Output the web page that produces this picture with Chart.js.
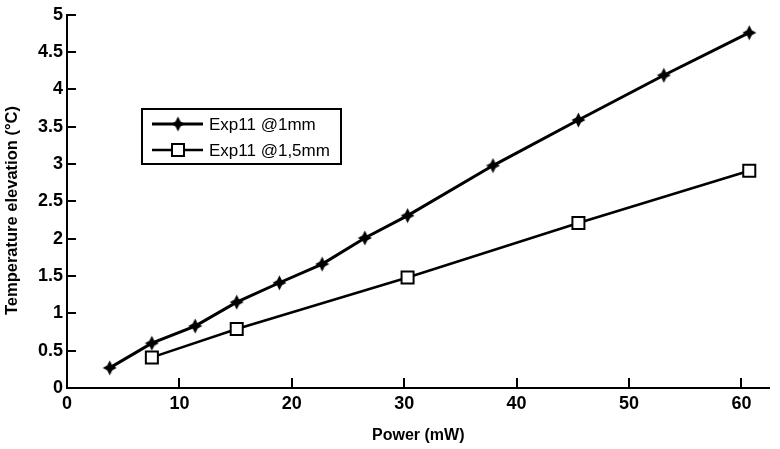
<!DOCTYPE html>
<html>
<head>
<meta charset="utf-8">
<script src="https://cdn.jsdelivr.net/npm/chart.js@4/dist/chart.umd.min.js"></script>
<style>
  body { margin: 0; background: #fff; }
  #wrap { width: 780px; height: 449px; }
</style>
</head>
<body>
<div id="wrap"><canvas id="myChart" width="780" height="449"></canvas></div>
<script>
// values
var seriesNames = ["Exp11 @1mm", "Exp11 @1,5mm"];
var power1 = [3.8, 7.55, 11.4, 15.1, 18.9, 22.7, 26.5, 30.3, 37.9, 45.5, 53.1, 60.7];
var temp1 = [0.27, 0.60, 0.83, 1.15, 1.41, 1.66, 2.01, 2.31, 2.98, 3.59, 4.19, 4.76];
var power2 = [7.55, 15.1, 30.3, 45.5, 60.7];
var temp2 = [0.41, 0.79, 1.48, 2.21, 2.91];
var xTickValues = [0, 10, 20, 30, 40, 50, 60];
var yTickValues = [0, 0.5, 1, 1.5, 2, 2.5, 3, 3.5, 4, 4.5, 5];

var fontName = "'Liberation Sans', Arial, sans-serif";

// fat 4 point star, like the original marker
function makeStar() {
  var c = document.createElement("canvas");
  c.width = 15;
  c.height = 16;
  var g = c.getContext("2d");
  g.fillStyle = "#000";
  g.beginPath();
  g.moveTo(7.5, 0.5);
  g.lineTo(10, 5.5);
  g.lineTo(14.5, 8);
  g.lineTo(10, 10.5);
  g.lineTo(7.5, 15.5);
  g.lineTo(5, 10.5);
  g.lineTo(0.5, 8);
  g.lineTo(5, 5.5);
  g.closePath();
  g.fill();
  return c;
}
var star = makeStar();

function toPoints(xs, ys) {
  return xs.map(function (x, i) { return { x: x, y: ys[i] }; });
}

// tick marks pointing into the plot
const insideTicks = {
  id: "insideTicks",
  afterDraw(chart) {
    var ctx = chart.ctx;
    var xs = chart.scales.x;
    var ys = chart.scales.y;
    var area = chart.chartArea;
    ctx.save();
    ctx.strokeStyle = "#000";
    ctx.lineWidth = 2;
    xTickValues.forEach(function (v) {
      if (v === 0) return;
      var px = Math.round(xs.getPixelForValue(v));
      ctx.beginPath();
      ctx.moveTo(px, area.bottom);
      ctx.lineTo(px, area.bottom - 10);
      ctx.stroke();
    });
    yTickValues.forEach(function (v) {
      if (v === 0) return;
      var py = Math.round(ys.getPixelForValue(v));
      ctx.beginPath();
      ctx.moveTo(area.left, py);
      ctx.lineTo(area.left + 9, py);
      ctx.stroke();
    });
    ctx.restore();
  }
};

const boxLegend = {
  id: "boxLegend",
  afterDraw(chart) {
    var ctx = chart.ctx;
    var bx = 142, by = 109, bw = 199, bh = 55;
    ctx.save();
    ctx.fillStyle = "#fff";
    ctx.fillRect(bx, by, bw, bh);
    ctx.strokeStyle = "#000";
    ctx.lineWidth = 2;
    ctx.strokeRect(bx, by, bw, bh);
    ctx.font = "17px " + fontName;
    ctx.textBaseline = "middle";
    ctx.fillStyle = "#000";
    var rows = [124, 150];
    rows.forEach(function (ry, i) {
      ctx.lineWidth = i === 0 ? 3 : 2.5;
      ctx.beginPath();
      ctx.moveTo(152, ry);
      ctx.lineTo(203, ry);
      ctx.stroke();
      if (i === 0) {
        ctx.drawImage(star, 178 - 7.5, ry - 8);
      } else {
        ctx.fillStyle = "#fff";
        ctx.fillRect(172, ry - 6, 12, 12);
        ctx.lineWidth = 2;
        ctx.strokeRect(172, ry - 6, 12, 12);
        ctx.fillStyle = "#000";
      }
      ctx.fillText(seriesNames[i], 209, ry + 1);
    });
    ctx.restore();
  }
};

new Chart("myChart", {
  type: "line",
  data: {
    datasets: [{
      label: seriesNames[0],
      data: toPoints(power1, temp1),
      borderColor: "#000",
      borderWidth: 3,
      pointStyle: star,
      pointRadius: 7,
      tension: 0
    }, {
      label: seriesNames[1],
      data: toPoints(power2, temp2),
      borderColor: "#000",
      backgroundColor: "#fff",
      borderWidth: 2.5,
      pointStyle: "rect",
      pointRadius: 8.5,
      pointBorderWidth: 2,
      pointBackgroundColor: "#fff",
      tension: 0
    }]
  },
  options: {
    responsive: false,
    animation: false,
    layout: { padding: { top: 10, right: 2, left: 0, bottom: 0 } },
    plugins: {
      legend: { display: false },
      tooltip: { enabled: false }
    },
    scales: {
      x: {
        type: "linear",
        min: 0,
        max: 62.5,
        afterBuildTicks: function (scale) {
          scale.ticks = xTickValues.map(function (v) { return { value: v }; });
        },
        afterFit: function (scale) { scale.height = 61; },
        grid: { display: true, drawOnChartArea: false, drawTicks: false },
        border: { display: true, color: "#000", width: 2 },
        ticks: {
          color: "#000",
          padding: 5,
          maxRotation: 0,
          font: { family: fontName, size: 18, weight: "bold" },
          callback: function (v) { return String(v); }
        },
        title: {
          display: true,
          text: "Power (mW)",
          color: "#000",
          padding: { top: 0, bottom: 4 },
          font: { family: fontName, size: 16, weight: "bold" }
        }
      },
      y: {
        type: "linear",
        min: 0,
        max: 5,
        afterBuildTicks: function (scale) {
          scale.ticks = yTickValues.map(function (v) { return { value: v }; });
        },
        afterFit: function (scale) { scale.width = 67; },
        grid: { display: true, drawOnChartArea: false, drawTicks: false },
        border: { display: true, color: "#000", width: 2 },
        ticks: {
          color: "#000",
          padding: 4,
          font: { family: fontName, size: 18, weight: "bold" },
          callback: function (v) { return String(v); }
        },
        title: {
          display: true,
          text: "Temperature elevation (°C)    ",
          color: "#000",
          padding: { top: 3, bottom: 0 },
          font: { family: fontName, size: 16.5, weight: "bold" }
        }
      }
    }
  },
  plugins: [insideTicks, boxLegend]
});
</script>
</body>
</html>
